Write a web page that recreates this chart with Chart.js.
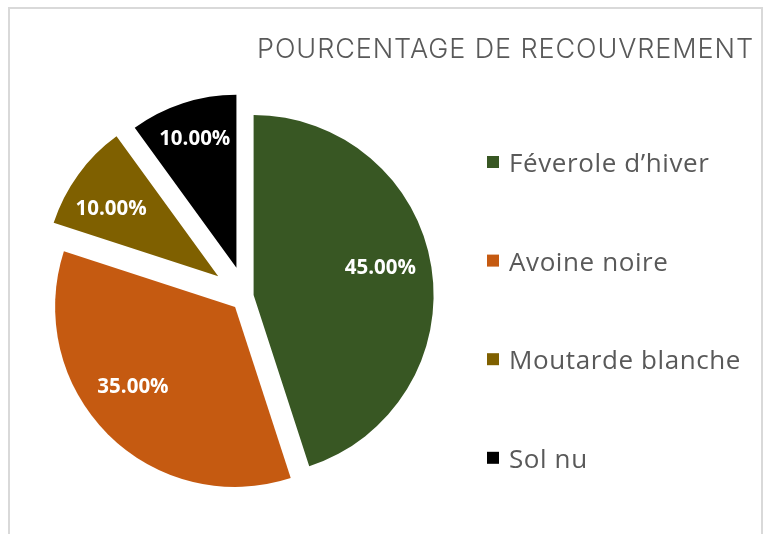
<!DOCTYPE html>
<html>
<head>
<meta charset="utf-8">
<script src="https://cdn.jsdelivr.net/npm/chart.js"></script>
<style>
  html, body { margin: 0; padding: 0; background: #fff; }
  canvas { display: block; }
</style>
</head>
<body>
<canvas id="pieChart" width="765" height="534"></canvas>
<script>
const labels = ["Féverole d’hiver", "Avoine noire", "Moutarde blanche", "Sol nu"];
const shares = [45, 35, 10, 10];
const colors = ["#385723", "#C55A11", "#7F6000", "#000000"];
const chartTitle = "POURCENTAGE DE RECOUVREMENT";

// per slice explosion (px) and radius, the picture has them uneven
const explode = [8, 15, 34, 30];
const sliceRadius = [180, 180, 173, 173];
// label placement: fraction of radius, angle nudge in degrees
const labelDist = [0.72, 0.72, 0.73, 0.78];
const labelTurn = [-3, 7, -4, 0];

const explodePlugin = {
  id: "explode",
  afterDatasetUpdate(chart, args) {
    args.meta.data.forEach((arc, i) => {
      const mid = (arc.startAngle + arc.endAngle) / 2;
      arc.x += Math.cos(mid) * explode[i];
      arc.y += Math.sin(mid) * explode[i];
      arc.outerRadius = sliceRadius[i];
    });
  }
};

const framePlugin = {
  id: "frame",
  beforeDraw(chart) {
    const ctx = chart.ctx;
    ctx.save();
    ctx.fillStyle = "#fff";
    ctx.fillRect(0, 0, chart.width, chart.height);
    ctx.strokeStyle = "#d9d9d9";
    ctx.lineWidth = 2;
    ctx.strokeRect(9, 8, 753, 600);
    ctx.restore();
  }
};

const labelPlugin = {
  id: "sliceLabels",
  afterDatasetsDraw(chart) {
    const ctx = chart.ctx;
    const meta = chart.getDatasetMeta(0);
    ctx.save();
    ctx.fillStyle = "#fff";
    ctx.font = "bold 20.5px 'Open Sans'";
    ctx.textAlign = "center";
    ctx.textBaseline = "middle";
    meta.data.forEach((arc, i) => {
      const a = (arc.startAngle + arc.endAngle) / 2 + labelTurn[i] * Math.PI / 180;
      const r = arc.outerRadius * labelDist[i];
      ctx.fillText(shares[i].toFixed(2) + "%", arc.x + Math.cos(a) * r, arc.y + Math.sin(a) * r);
    });
    ctx.restore();
  }
};

const titleLegendPlugin = {
  id: "titleLegend",
  afterDraw(chart) {
    const ctx = chart.ctx;
    ctx.save();
    // title
    ctx.fillStyle = "#595959";
    ctx.font = "300 27px Inter";
    ctx.textAlign = "right";
    ctx.textBaseline = "alphabetic";
    const w = ctx.measureText(chartTitle).width;
    ctx.letterSpacing = ((496 - w) / (chartTitle.length - 1)) + "px";
    ctx.fillText(chartTitle, 754, 58);

    // legend
    ctx.font = "26px 'Open Sans'";
    ctx.letterSpacing = "0.6px";
    ctx.textAlign = "left";
    labels.forEach((lab, i) => {
      const cy = 162 + i * 98.6;
      ctx.fillStyle = colors[i];
      ctx.fillRect(487, cy - 6, 12, 12);
      ctx.fillStyle = "#595959";
      ctx.fillText(lab, 509, cy + 10);
    });
    ctx.restore();
  }
};

new Chart(document.getElementById("pieChart"), {
  type: "pie",
  data: {
    labels,
    datasets: [{
      data: shares,
      backgroundColor: colors,
      borderWidth: 0
    }]
  },
  options: {
    responsive: false,
    animation: false,
    radius: 180,
    layout: { padding: { left: 0, right: 273.6, top: 58.6, bottom: 0 } },
    plugins: {
      legend: { display: false },
      title: { display: false },
      tooltip: { enabled: false }
    }
  },
  plugins: [framePlugin, explodePlugin, labelPlugin, titleLegendPlugin]
});
</script>
</body>
</html>
